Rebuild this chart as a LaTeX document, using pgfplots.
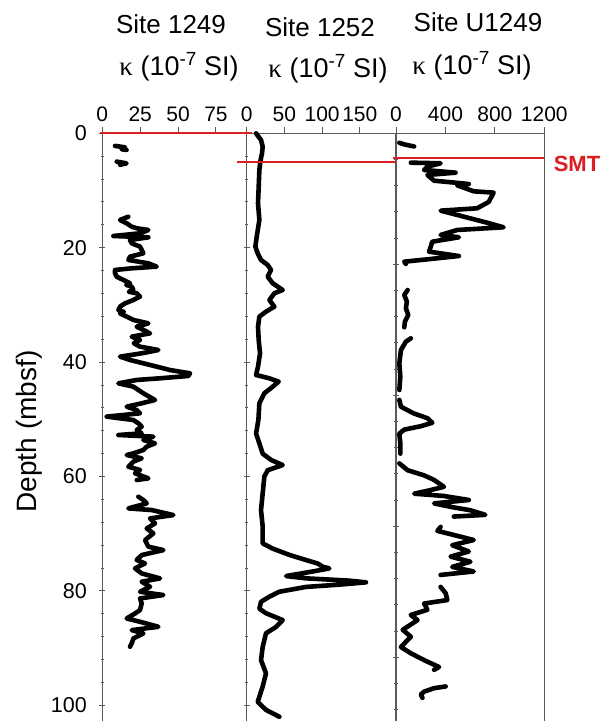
\documentclass[border=0pt]{standalone}
\usepackage{fontspec}
\setmainfont{Liberation Sans}
\newfontfamily\serifk{Liberation Serif}
\usepackage{pgfplots}
\pgfplotsset{compat=1.18}
\definecolor{smtred}{RGB}{220,30,35}
\definecolor{axgray}{RGB}{90,90,90}
\pgfplotsset{panel/.style={
  scale only axis, anchor=north west,
  height=594.9pt,
  y dir=reverse, ymin=0, ymax=104,
  axis line style={axgray, line width=1.3pt},
  every tick/.append style={axgray, line width=1pt},
  tick align=center,
  major tick length=6pt, minor tick length=3.5pt,
  every major x tick/.append style={yshift=3pt},
  xtick pos=right, xticklabel pos=right,
  ytick pos=left,
  /pgf/number format/assume math mode=true,
  /pgf/number format/1000 sep={},
  xticklabel style={font=\fontsize{21}{21}\selectfont, yshift=5pt},
  yticklabel style={font=\fontsize{21.5}{21.5}\selectfont, xshift=-9pt},
  clip=false,
},
dat/.style={black, line width=4.6pt, line join=round, line cap=round}}
\newcommand{\kap}{{\serifk κ} (10\raisebox{10pt}{\fontsize{19}{19}\selectfont -7} SI)}
\begin{document}
\begin{tikzpicture}
\path[use as bounding box] (0,0) rectangle (602pt,-721pt);
% Panel 1
\begin{axis}[panel, at={(102.3pt,-133.3pt)}, width=144.4pt, xmin=0, xmax=95.3,
  xtick={0,25,50,75}, ytick={0,20,40,60,80,100}, minor y tick num=4]
\addplot[dat] coordinates {(8.4,2.2) (15,2.45) (12.8,2.8) (16,2.9)};
\addplot[dat] coordinates {(9.5,4.95) (16,5.25) (11.7,5.5)};
\addplot[dat] coordinates {(17.2,14.57) (11.7,15.15) (16.1,15.73) (19.4,16.32) (22.7,16.6) (30.4,16.9) (24.9,17.48) (7.3,17.95) (30.4,18.18) (18.3,18.65) (19.4,19.23) (24.9,19.81) (27.1,20.98) (18.3,21.56) (17.2,22.14) (30.4,22.73) (35.9,23.31) (19.4,23.6) (8.4,23.89) (8.4,24.48) (9.5,25.06) (13.9,25.64) (18.3,26.22) (15.8,26.5) (19.4,26.81) (20.5,27.39) (17.5,27.7) (22.7,27.97) (24.9,28.55) (20.5,29.14) (15.0,29.72) (11.7,30.30) (10.6,30.89) (14.2,31.2) (11.7,31.47) (16.1,32.05) (20.5,32.63) (30.4,33.22) (22.7,33.80) (27.1,34.38) (31.5,34.97) (19.4,35.55) (24.9,36.13) (20.8,36.7) (24.9,37.30) (37.0,37.88) (26.0,38.46) (11.7,39.04) (18.3,39.63) (27.1,40.21) (35.9,40.79) (44.7,41.38) (57.9,41.96) (56.8,42.42) (38,42.83) (22.7,43.12) (10.6,43.71) (20.5,44.29) (27.1,45.45) (34.8,46.62) (26.0,47.2) (16.1,47.79) (22.7,48.37) (24.9,48.95) (2.9,49.53) (20.5,50.12) (23.8,50.7) (26.0,51.28) (22.7,51.87) (26.0,52.45) (10.6,52.74) (33.7,53.03) (27.1,53.62) (34.8,54.2) (29.3,54.78) (27.1,55.36) (20.5,55.95) (16.1,56.24) (26.0,56.82) (20.5,57.4) (17.2,58.28) (24.9,58.86) (21.6,59.44) (30.4,60.32) (22.7,60.61)};
\addplot[dat] coordinates {(23.8,63.53) (27.1,64.11) (29.3,64.7) (17.2,65.57) (32.6,65.86) (46.9,66.74) (31.5,67.32) (34.8,68.2) (29.3,69.07) (33.7,69.94) (28.2,71.11) (30.4,72.27) (40.3,72.86) (26.0,73.73) (22.7,74.6) (28.2,75.19) (21.6,76.06) (26.0,76.94) (38.1,77.81) (26.0,78.39) (31.5,79.27) (24.9,80.14) (40.3,80.72) (24.9,81.31) (26.0,82.18) (24.9,83.35) (21.6,83.94) (16.1,84.81) (24.9,85.39) (37.0,86.27) (19.4,86.85) (27.1,87.43) (20.5,88.31) (19.4,89.18) (18.3,89.76)};
\end{axis}
% Panel 2
\begin{axis}[panel, at={(246.7pt,-133.3pt)}, width=149.3pt, xmin=0, xmax=198,
  xtick={0,50,100,150}, ytick={0,20,40,60,80,100}, minor y tick num=4, yticklabels={}]
\addplot[dat] coordinates {(12.4,0) (19,1.17) (21.2,2.33) (20.3,3.5) (18,4.95) (16.8,6.41) (15.9,9.32) (15,12.24) (16.8,15.15) (13.3,18.07) (11.5,19.81) (14.6,20.98) (19,22.14) (27.8,23.02) (32.3,23.89) (27.8,25.06) (34.5,26.22) (47.7,27.39) (36.7,27.97) (30,29.14) (36.7,30.3) (25.6,31.18) (16.8,32.05) (15,33.8) (15.9,36.13) (17.7,38.46) (15,40.79) (12.4,42.25) (30,42.83) (42.4,43.41) (34.5,44.29) (23.4,45.45) (16.8,47.2) (15.5,50.1) (12.4,52.5) (16.8,54.2) (21.2,56) (32.3,57.1) (47.7,58) (27.8,58.9) (23.4,60.0) (21.2,62.94) (19,65.86) (21.2,68.77) (21.2,71.69) (34.5,72.6) (56.6,73.7) (78.7,74.6) (94.1,75.2) (100.8,75.77) (109.6,76.06) (91.9,76.5) (74.3,76.9) (52.2,77.4) (78.7,77.8) (136,78.2) (158.2,78.5) (122.9,78.9) (78.7,79.3) (43.3,80.14) (30.1,81.0) (19,81.9) (16.8,83.1) (25.6,83.9) (47.7,85.1) (38.9,86.3) (25.6,87.4) (21.2,89.8) (19,92.1) (25.6,94.4) (21.2,96.7) (14.6,99.4) (25.6,100.8) (43.3,102)};
\end{axis}
% Panel 3
\begin{axis}[panel, at={(396pt,-133.3pt)}, width=148.3pt, xmin=0, xmax=1200,
  xtick={0,400,800,1200}, ytick={0,22.9,45.8,68.7,91.6}, yticklabels={},
  minor ytick={4.58,9.16,13.74,18.32,27.48,32.06,36.64,41.22,50.38,54.96,59.54,64.12,73.28,77.86,82.44,87.02,96.18,100.76}]
\addplot[dat] coordinates {(27,1.65) (60,1.9) (100,2.1) (147,2.3)};
\addplot[dat] coordinates {(120,5.13) (361,5.24) (254,5.83) (227,6.41) (482,6.88) (254,7.28) (308,8.28) (589,8.86) (495,9.09) (629,10.14) (790,10.37) (750,12.0) (656,13.11) (361,13.52) (736,15.62) (870,16.43) (495,16.9) (361,17.77) (509,18.18) (294,18.94) (268,20.69) (509,21.45) (254,22.03) (67,22.44) (80,22.84)};
\addplot[dat] coordinates {(94,27.39) (67,28.26) (88,29.43) (80,30.6) (99,31.76) (72,32.93) (67,33.92)};
\addplot[dat] coordinates {(120,35.84) (80,36.42) (40,37.88) (27,40.21) (35,42.54) (27,44.87)};
\addplot[dat] coordinates {(27,46.6) (40,47.8) (147,49.0) (254,49.8) (294,50.6) (201,51.2) (67,51.8) (27,52.5) (35,54.2) (35,56.0)};
\addplot[dat] coordinates {(27,57.7) (94,58.9) (228,59.8) (308,60.6) (388,61.8) (254,62.5) (147,63.0) (388,63.4) (589,64.1) (308,64.7) (442,65.3) (602,65.9) (723,66.7) (468,67.0)};
\addplot[dat] coordinates {(361,68.8) (335,69.5) (428,70.0) (629,71.1) (455,72.0) (589,73.1) (442,74.0) (602,74.9) (455,75.8) (629,76.6) (361,77.2)};
\addplot[dat] coordinates {(361,79.3) (402,80.4) (415,81.6) (228,82.2) (254,83.3) (120,84.2) (174,85.1) (54,86.8) (120,88.0) (40,89.8) (120,90.9) (228,92.1) (348,93.3) (308,93.8)};
\addplot[dat] coordinates {(402,96.7) (308,97.0) (228,97.6) (201,98.1) (214,98.7)};
\end{axis}
% SMT lines
\draw[smtred, line width=2pt] (100pt,-133.3pt) -- (252pt,-133.3pt);
\draw[smtred, line width=2pt] (237pt,-161.7pt) -- (396pt,-161.7pt);
\draw[smtred, line width=2pt] (393pt,-157.5pt) -- (544.3pt,-157.5pt);
\node[font=\bfseries\fontsize{22}{22}\selectfont, text=smtred] at (577pt,-163.5pt) {SMT};
% titles
\begin{scope}[every node/.style={font=\fontsize{26}{26}\selectfont, inner sep=0pt}]
\node at (171pt,-24pt) {Site 1249};
\node at (320pt,-27pt) {Site 1252};
\node at (478pt,-22.5pt) {Site U1249};
\node[font=\fontsize{27}{27}\selectfont] at (179pt,-67pt) {\kap};
\node[font=\fontsize{27}{27}\selectfont] at (328pt,-69pt) {\kap};
\node[font=\fontsize{27}{27}\selectfont] at (472pt,-66pt) {\kap};
\end{scope}
\node[rotate=90, font=\fontsize{28}{28}\selectfont, inner sep=0pt] at (29pt,-431.5pt) {Depth (mbsf)};
\end{tikzpicture}
\end{document}
